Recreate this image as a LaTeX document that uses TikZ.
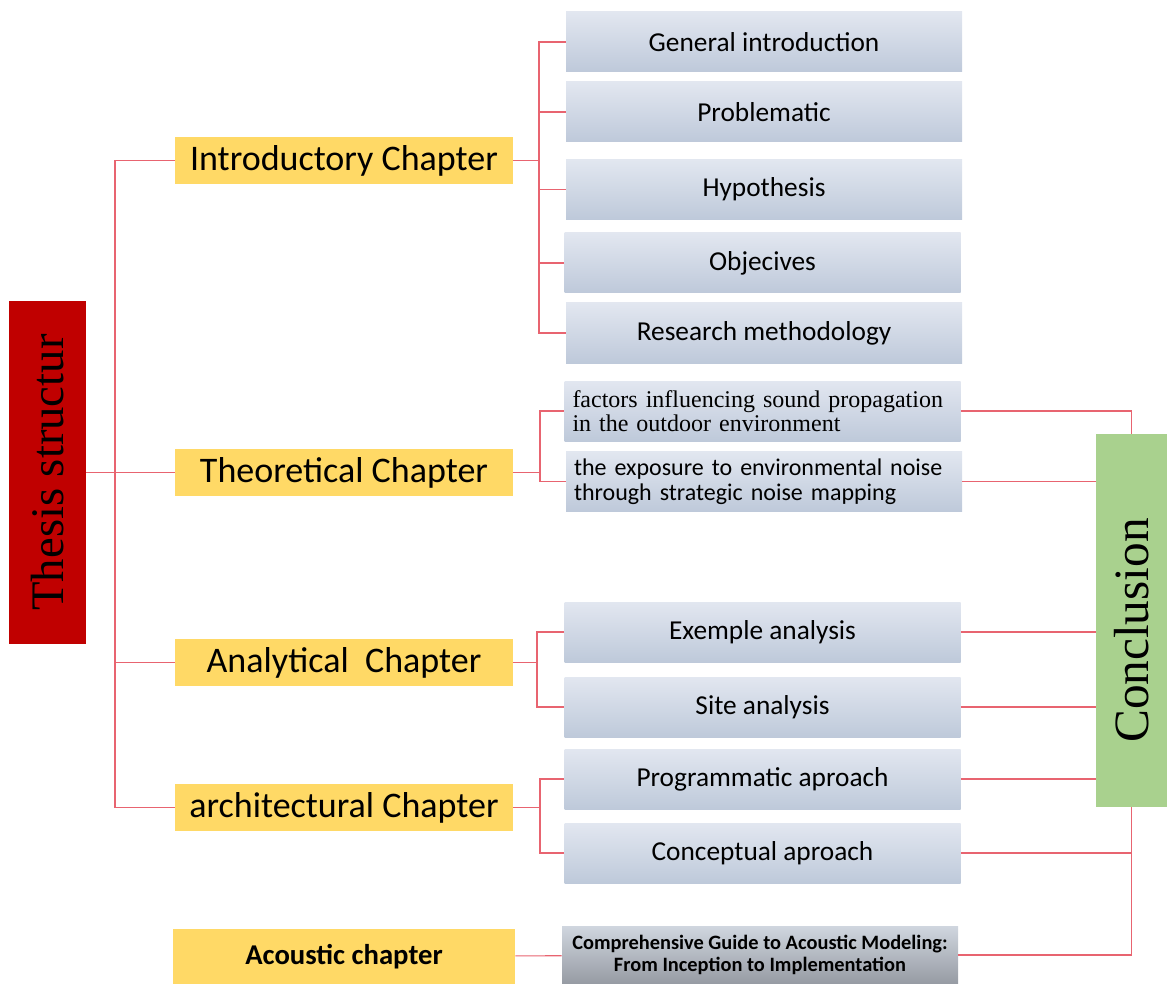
\documentclass[tikz,border=0pt]{standalone}
\usepackage{fontspec}
\setmainfont{Liberation Serif}
\setsansfont{Carlito}
\usepackage{tikz}
\usetikzlibrary{calc, positioning}
\definecolor{thesisred}{RGB}{192,0,0}
\definecolor{concgreen}{RGB}{169,209,142}
\definecolor{chapyellow}{RGB}{255,217,102}
\definecolor{linkred}{RGB}{232,100,112}
\tikzstyle{chap}=[fill=chapyellow, inner sep=0pt, minimum width=338*0.75pt, minimum height=47*0.75pt, font=\sffamily\fontsize{27}{30}\selectfont]
\tikzstyle{part}=[inner sep=0pt, top color={rgb,255:red,226;green,231;blue,240}, bottom color={rgb,255:red,190;green,201;blue,218}, minimum width=396*0.75pt, minimum height=60*0.75pt, font=\sffamily\fontsize{20.5}{23}\selectfont]
\tikzstyle{link}=[draw=linkred, line width=0.8pt]
\tikzset{>=stealth}

\begin{document}
\begin{tikzpicture}[x=0.75pt, y=-0.75pt]
\useasboundingbox (0,0) rectangle (1167,984);
% side blocks
\node[fill=thesisred, minimum width=77*0.75pt, minimum height=343*0.75pt, inner sep=0pt] (T) at (47.5,472.5) {};
\node[rotate=90, font=\fontsize{35}{40}\selectfont] at (T) {Thesis structur};
\node[fill=concgreen, minimum width=71*0.75pt, minimum height=373*0.75pt, inner sep=0pt] (K) at (1131.5,620.5) {};
\node[rotate=90, font=\fontsize{37}{42}\selectfont] at ([yshift=-10*0.75pt]K) {Conclusion};

% chapters
\node[chap] (C1) at (344,160.5) {Introductory Chapter};
\node[chap] (C2) at (344,472.5) {Theoretical Chapter};
\node[chap] (C3) at (344,662.5) {Analytical\ \ Chapter};
\node[chap] (C4) at (344,807.5) {architectural Chapter};
\node[chap, minimum width=342*0.75pt, minimum height=55*0.75pt, font=\sffamily\bfseries\fontsize{21.5}{24}\selectfont] (C5) at (344,956.5) {Acoustic chapter};

% parts
\node[part] (P1) at (764,42) {General introduction};
\node[part] (P2) at (764,112) {Problematic};
\node[part] (P3) at (764,189.5) {Hypothesis};
\node[part] (P4) at (762.5,263) {Objecives};
\node[part] (P5) at (764,333) {Research methodology};
\node[part, text width=380*0.75pt, align=left, font=\fontsize{18}{18.5}\selectfont] (F1) at (762.5,411) {factors influencing sound propagation\\in the outdoor environment};
\node[part, text width=380*0.75pt, align=left, font=\sffamily\fontsize{18}{18.5}\selectfont] (F2) at (764,481.5) {the exposure to environmental noise\\through strategic noise mapping};
\node[part] (A1) at (762.5,632) {Exemple analysis};
\node[part] (A2) at (762.5,707) {Site analysis};
\node[part] (Q1) at (762.5,779) {Programmatic aproach};
\node[part] (Q2) at (762.5,853) {Conceptual aproach};
\node[part, top color={rgb,255:red,208;green,214;blue,223}, bottom color={rgb,255:red,150;green,155;blue,163}, minimum height=58*0.75pt, align=center, font=\sffamily\bfseries\fontsize{15.3}{17}\selectfont] (G1) at (760,955) {Comprehensive Guide to Acoustic Modeling:\\From Inception to Implementation};

% junctions
\coordinate (J0) at (115,472.5);
\coordinate (J1) at (539,160.5);
\coordinate (J2) at (540,472.5);
\coordinate (J3) at (537,662.5);
\coordinate (J4) at (540,807.5);

\draw[link] (T) -- (J0);
\draw[link] (J0) |- (C1);
\draw[link] (J0) -- (C2);
\draw[link] (J0) |- (C3);
\draw[link] (J0) |- (C4);

\draw[link] (C1) -- (J1);
\draw[link] (J1) |- (P1);
\draw[link] (J1) |- (P2);
\draw[link] (J1) |- (P3);
\draw[link] (J1) |- (P4);
\draw[link] (J1) |- (P5);

\draw[link] (C2) -- (J2);
\draw[link] (J2) |- (F1);
\draw[link] (J2) |- (F2);

\draw[link] (C3) -- (J3);
\draw[link] (J3) |- (A1);
\draw[link] (J3) |- (A2);

\draw[link] (C4) -- (J4);
\draw[link] (J4) |- (Q1);
\draw[link] (J4) |- (Q2);

\draw[link] (C5) -- (G1);

% into the conclusion
\draw[link] (F1) -| (K);
\draw[link] (F2.east) -- (F2.east -| K.west);
\draw[link] (A1.east) -- (A1.east -| K.west);
\draw[link] (A2.east) -- (A2.east -| K.west);
\draw[link] (Q1.east) -- (Q1.east -| K.west);
\draw[link] (Q2) -| (K);
\draw[link] (K) |- (G1);
\end{tikzpicture}
\end{document}
